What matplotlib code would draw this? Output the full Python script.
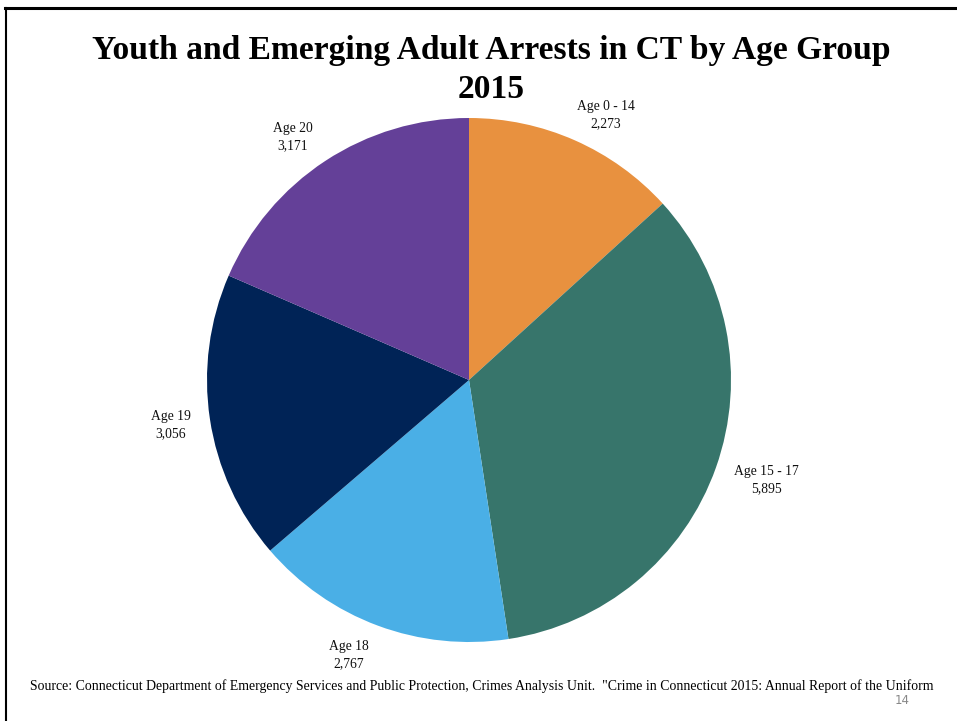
import matplotlib
matplotlib.use("Agg")
import matplotlib.pyplot as plt
from matplotlib.lines import Line2D

# Arrest counts by age group, Connecticut 2015
groups = ["Age 0 - 14", "Age 15 - 17", "Age 18", "Age 19", "Age 20"]
arrests = [2273, 5895, 2767, 3056, 3171]
colors = ["#E8913F", "#37756B", "#4AAFE6", "#002356", "#644098"]

W, H = 957, 721
fig = plt.figure(figsize=(W / 100, H / 100), dpi=100)
fig.patch.set_facecolor("white")
ax = fig.add_axes([0, 0, 1, 1])

labels = [f"{g}\n{v:,}" for g, v in zip(groups, arrests)]
wedges, texts = ax.pie(
    arrests,
    colors=colors,
    labels=labels,
    startangle=90,
    counterclock=False,
    center=(469, H - 380),
    radius=262,
    labeldistance=1.15,
    wedgeprops=dict(linewidth=0),
    textprops=dict(family="Liberation Serif", fontsize=9.8, ha="center",
                   va="center", linespacing=1.35, color="#111111"),
)

# Hand-tuned label placement (pixel offsets from the top-left corner)
label_xy = [(606, 115), (766, 480), (349, 655), (171, 425), (293, 137)]
for t, (px, py) in zip(texts, label_xy):
    t.set_position((px, H - py))

ax.set_xlim(0, W)
ax.set_ylim(0, H)
ax.set_aspect("auto")
ax.axis("off")

# Title
fig.text(491 / W, 1 - 51 / H, "Youth and Emerging Adult Arrests in CT by Age Group",
         family="Liberation Serif", weight="bold", fontsize=24.1,
         ha="center", va="center")
fig.text(491 / W, 1 - 89 / H, "2015", family="Liberation Serif", weight="bold",
         fontsize=24.1, ha="center", va="center")

# Source note and page number
fig.text(30 / W, 1 - 686 / H,
         "Source: Connecticut Department of Emergency Services and Public Protection, "
         "Crimes Analysis Unit.  \"Crime in Connecticut 2015: Annual Report of the Uniform",
         family="Liberation Serif", fontsize=9.95, ha="left", va="center")
fig.text(902 / W, 1 - 700 / H, "14", family="DejaVu Sans", fontsize=8.5,
         color="#888888", ha="center", va="center")

# Frame lines along the top and left edges
fig.add_artist(Line2D([5 / W, 1], [1 - 8 / H, 1 - 8 / H], color="black",
                      linewidth=2.2, transform=fig.transFigure))
fig.add_artist(Line2D([6 / W, 6 / W], [0, 1 - 8 / H], color="black",
                      linewidth=1.5, transform=fig.transFigure))

fig.savefig("out.png", dpi=100)
